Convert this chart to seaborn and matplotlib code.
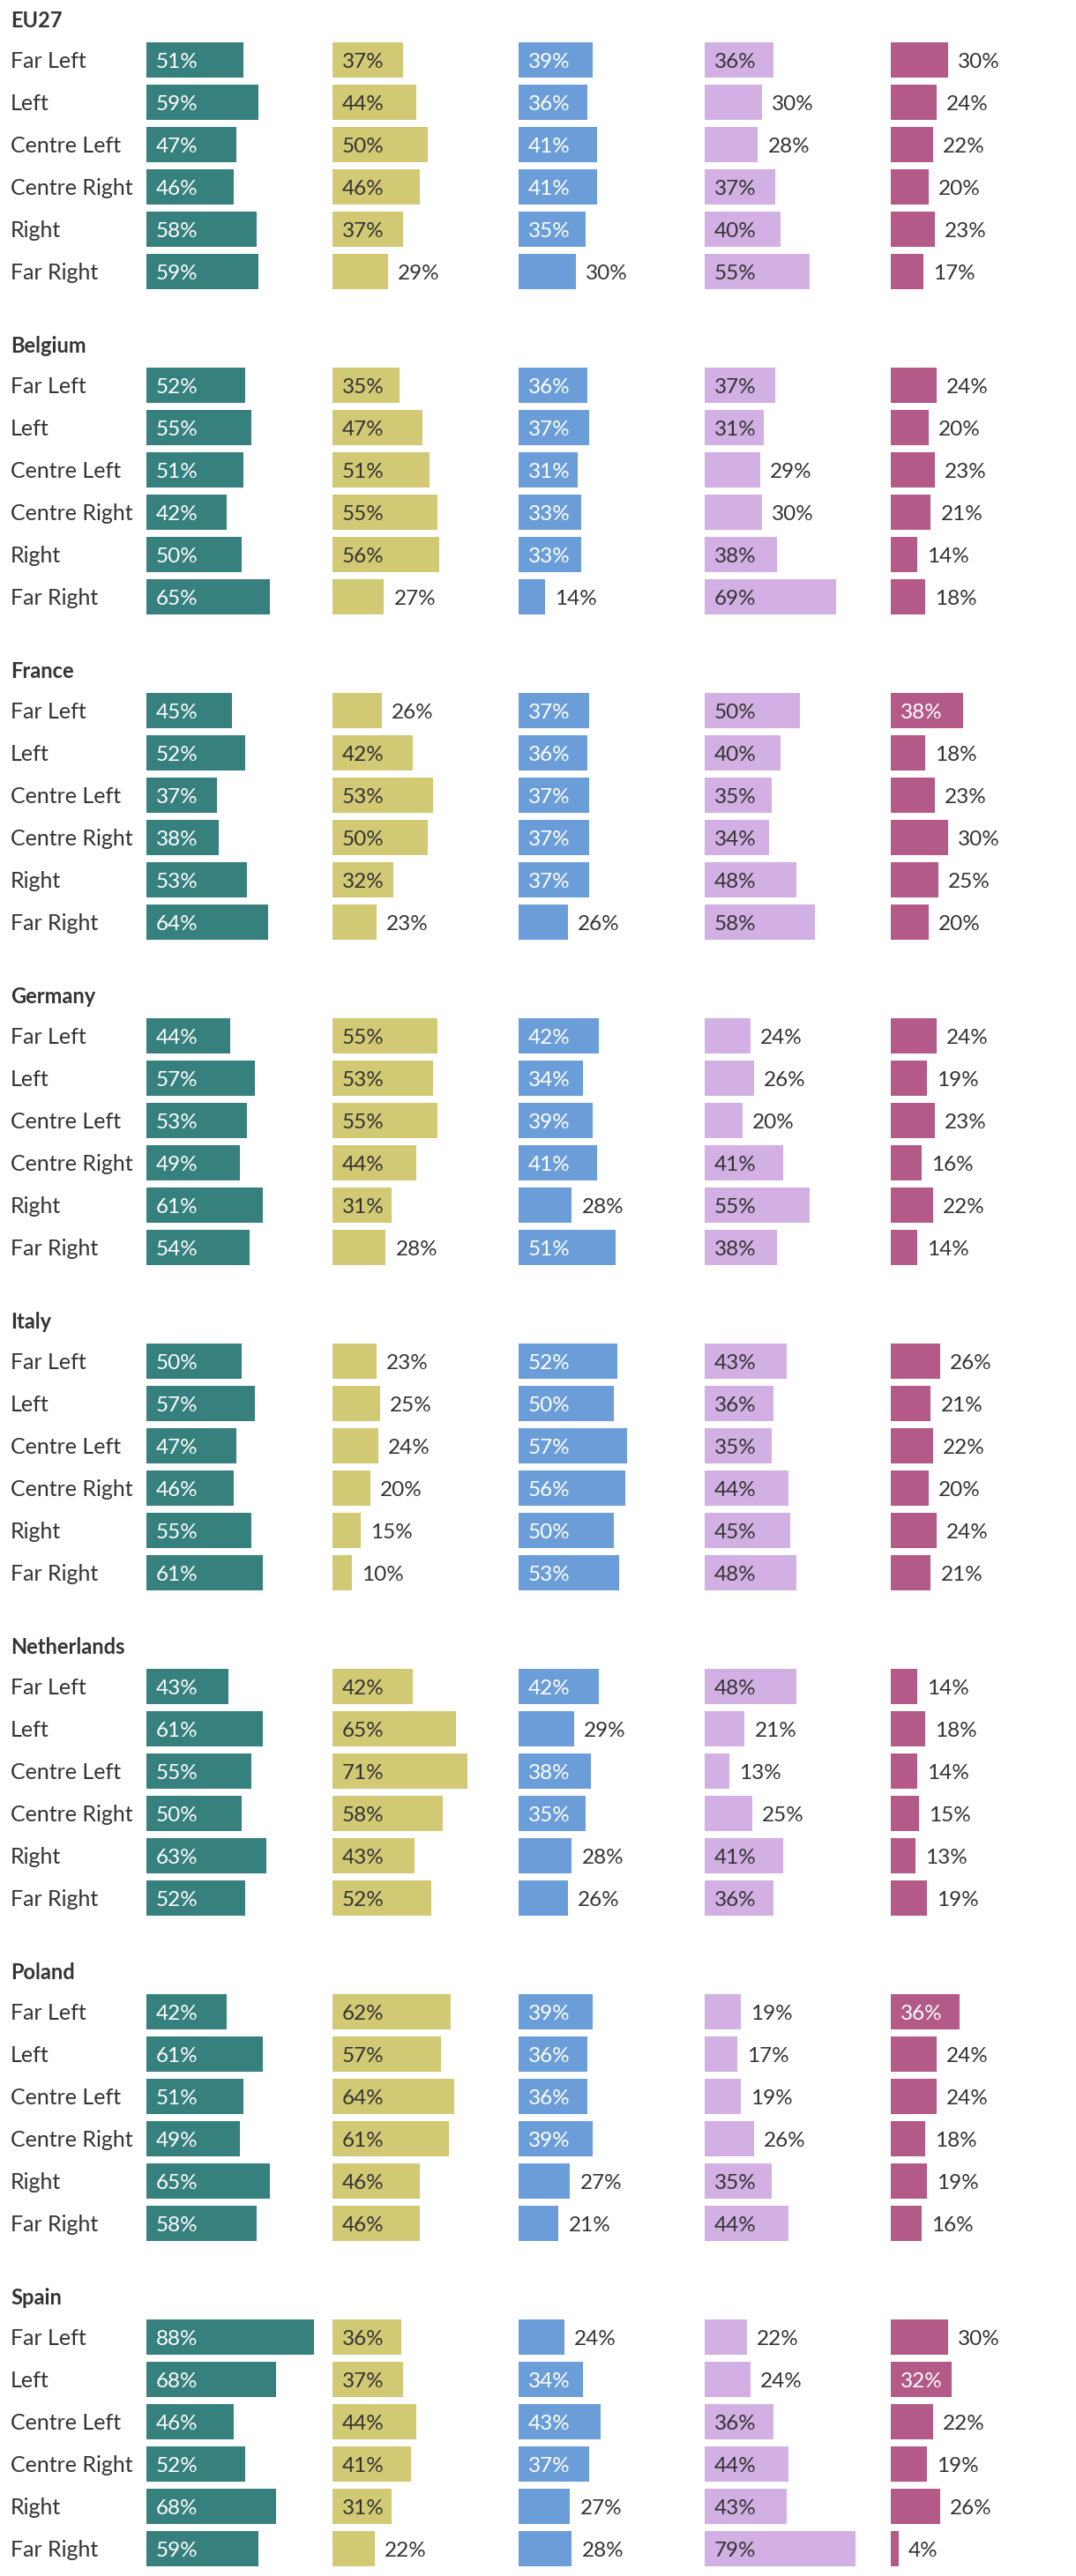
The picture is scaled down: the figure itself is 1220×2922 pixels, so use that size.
import matplotlib
matplotlib.use("Agg")
import matplotlib.pyplot as plt
import matplotlib.transforms as mtransforms
import seaborn as sns

# Landen (secties) en politieke posities (rijen)
countries = ['EU27', 'Belgium', 'France', 'Germany', 'Italy', 'Netherlands', 'Poland', 'Spain']
positions = ['Far Left', 'Left', 'Centre Left', 'Centre Right', 'Right', 'Far Right']

# Waarden per kolom, per land (volgorde van positions)
col_teal = [
    [51, 59, 47, 46, 58, 59],
    [52, 55, 51, 42, 50, 65],
    [45, 52, 37, 38, 53, 64],
    [44, 57, 53, 49, 61, 54],
    [50, 57, 47, 46, 55, 61],
    [43, 61, 55, 50, 63, 52],
    [42, 61, 51, 49, 65, 58],
    [88, 68, 46, 52, 68, 59],
]
col_yellow = [
    [37, 44, 50, 46, 37, 29],
    [35, 47, 51, 55, 56, 27],
    [26, 42, 53, 50, 32, 23],
    [55, 53, 55, 44, 31, 28],
    [23, 25, 24, 20, 15, 10],
    [42, 65, 71, 58, 43, 52],
    [62, 57, 64, 61, 46, 46],
    [36, 37, 44, 41, 31, 22],
]
col_blue = [
    [39, 36, 41, 41, 35, 30],
    [36, 37, 31, 33, 33, 14],
    [37, 36, 37, 37, 37, 26],
    [42, 34, 39, 41, 28, 51],
    [52, 50, 57, 56, 50, 53],
    [42, 29, 38, 35, 28, 26],
    [39, 36, 36, 39, 27, 21],
    [24, 34, 43, 37, 27, 28],
]
col_lilac = [
    [36, 30, 28, 37, 40, 55],
    [37, 31, 29, 30, 38, 69],
    [50, 40, 35, 34, 48, 58],
    [24, 26, 20, 41, 55, 38],
    [43, 36, 35, 44, 45, 48],
    [48, 21, 13, 25, 41, 36],
    [19, 17, 19, 26, 35, 44],
    [22, 24, 36, 44, 43, 79],
]
col_pink = [
    [30, 24, 22, 20, 23, 17],
    [24, 20, 23, 21, 14, 18],
    [38, 18, 23, 30, 25, 20],
    [24, 19, 23, 16, 22, 14],
    [26, 21, 22, 20, 24, 21],
    [14, 18, 14, 15, 13, 19],
    [36, 24, 24, 18, 19, 16],
    [30, 32, 22, 19, 26, 4],
]

columns = [col_teal, col_yellow, col_blue, col_lilac, col_pink]
colors = ['#36807e', '#d2c975', '#6b9ed9', '#d2b0e3', '#b45a88']
inside_text = ['white', '#333333', 'white', '#333333', 'white']
dark = '#333333'

sns.set_style('white')
plt.rcParams['font.family'] = ['Lato', 'DejaVu Sans']

W, H = 1220, 2922
fig = plt.figure(figsize=(W / 100, H / 100), dpi=100)

section_h = 369
row_h = 48
col_left = 166
col_step = 211
xmax = 97.7  # procent over de kolombreedte
pad = 8  # punten, ongeveer 11 px
val_drop = -6.4  # baseline onder het midden van de balk (punten)
lab_drop = -6.6

for k, country in enumerate(countries):
    top = 44 + section_h * k
    # sectietitel
    fig.text(12 / W, 1 - (top - 21 + 8.3) / H, country, fontsize=17, fontweight='bold',
             color=dark, va='baseline', ha='left')
    for j, col in enumerate(columns):
        vals = col[k]
        ax = fig.add_axes([(col_left + col_step * j) / W, 1 - (top + 6 * row_h) / H,
                           col_step / W, 6 * row_h / H])
        sns.barplot(x=vals, y=positions, color=colors[j], saturation=1, width=0.83,
                    orient='h', linewidth=0, ax=ax)
        ax.set_xlim(0, xmax)
        ax.set_ylim(5.5, -0.5)
        ax.axis('off')
        for i, v in enumerate(vals):
            if v > 30:
                ax.annotate(f'{v}%', xy=(0, i), xytext=(pad, val_drop), textcoords='offset points',
                            va='baseline', ha='left', fontsize=17.5, color=inside_text[j])
            else:
                ax.annotate(f'{v}%', xy=(v, i), xytext=(pad, val_drop), textcoords='offset points',
                            va='baseline', ha='left', fontsize=17.5, color=dark)
        if j == 0:
            trans = mtransforms.blended_transform_factory(fig.transFigure, ax.transData)
            for i, p in enumerate(positions):
                ax.annotate(p, xy=(12 / W, i), xycoords=trans, xytext=(0, lab_drop),
                            textcoords='offset points', fontsize=18, color=dark,
                            va='baseline', ha='left')

fig.savefig('out.png', dpi=100, facecolor='white')
